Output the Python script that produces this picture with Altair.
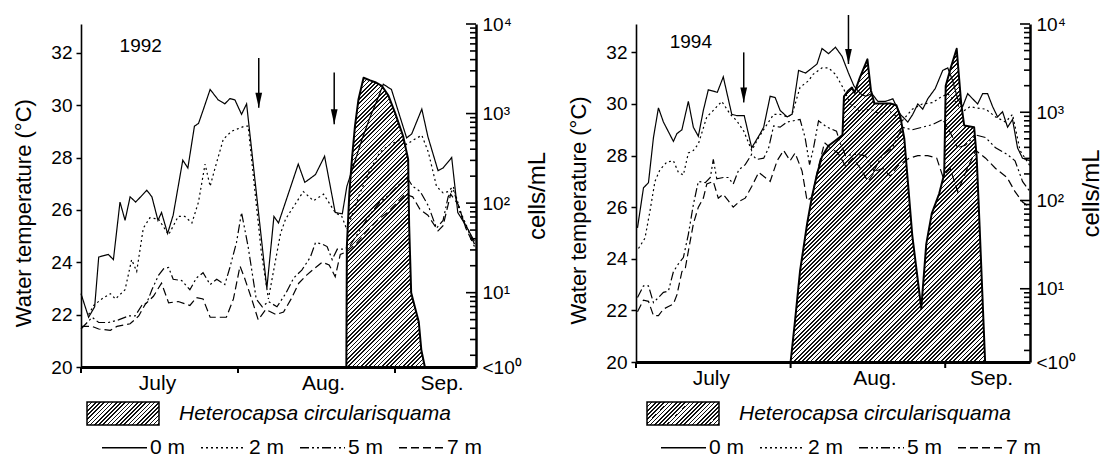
import math
import altair as alt
import pandas as pd

FONT = "Liberation Sans"

# ---- shared chart vocabulary -------------------------------------------
DEPTHS = ["0 m", "2 m", "5 m", "7 m"]
DASHES = [[1, 0], [2, 3], [9, 3, 2, 3, 2, 3], [8, 4]]
MONTHS = ["July", "Aug.", "Sep."]
MONTH_LABEL_DAYS = [15.0, 47.8, 71.2]
MONTH_START_DAYS = [0, 31, 62]
TEMP_TICKS = [20, 22, 24, 26, 28, 30, 32]
TEMP_DOMAIN = [20, 33.1]
LOG_BOTTOM, LOG_TOP = 0.17, 4.0
CELL_LABEL_VALUES = [10 ** LOG_BOTTOM, 10, 100, 1000, 10000]
CELL_LABELS = ["<10⁰", "10¹", "10²", "10³", "10⁴"]
SPECIES = "Heterocapsa circularisquama"
BELOW_DETECTION = 1  # plotted on the "<10^0" baseline

# ---- 1992 (day 0 = 1 July) ----------------------------------------------
d92_0 = [0, 1.5, 2.7, 3.5, 5.4, 6.4, 7.7, 8.7, 9.7, 10.8, 13, 14, 15.2, 15.9, 17.1, 18.2,
         20.1, 21.1, 22.4, 23.2, 24.1, 25.5, 27.1, 28.4, 29.4, 30.4, 31.7, 32.7, 36.7, 38.1,
         39.0, 41.0, 42.9, 44.2, 46.3, 48.1, 50.2, 51.6, 52.5, 54, 55.5, 57, 58.5, 59.7, 61.3,
         64.3, 65.3, 67.3, 68.5, 70.5, 71.5, 73.2, 74.4, 76, 77.7]
t92_0 = [22.8, 21.9, 22.3, 24.2, 24.3, 24.1, 26.3, 25.6, 26.5, 26.3, 26.75, 26.5, 25.6, 25.9, 25.1, 25.8,
         27.9, 27.6, 29.2, 29.3, 29.8, 30.6, 30.2, 30.05, 30.25, 30.2, 29.65, 30.05, 23.0, 25.75,
         25.5, 26.65, 27.75, 27.05, 27.35, 28.05, 25.9, 25.85, 26.9, 27.8, 28.7, 29.5, 30.2, 30.8, 30.6,
         28.75, 28.9, 29.85, 28.8, 27.5, 27.6, 28.0, 25.9, 25.4, 24.8]
d92_2 = [1.5, 2.5, 4.1, 5.8, 6.8, 8.7, 10, 11, 12.3, 13.6, 15.3, 17.3, 19.2, 20.5, 21.9, 23.2,
         24.5, 25.5, 26.4, 28.1, 29.7, 32.3, 33, 35.6, 37, 39.4, 40.4, 43.9, 45.9, 47.9, 50.2,
         51.5, 52.5, 55, 57, 59, 61, 63.3, 64.3, 65.9, 67.3, 68.6, 70.2, 71.5, 72.5, 73.5, 75, 77.7]
t92_2 = [22.0, 22.35, 22.6, 22.8, 22.6, 22.95, 24.1, 23.65, 25.3, 25.7, 25.65, 25.05, 25.75, 25.75, 25.5, 26.3,
         27.75, 26.9, 27.55, 28.7, 29.0, 29.2, 29.2, 24.4, 22.6, 25.1, 25.65, 26.7, 26.35, 26.6, 25.9,
         25.75, 25.25, 26.6, 27.5, 28.2, 28.5, 28.7, 28.5, 28.7, 28.85, 28.2, 26.9, 26.65, 26.7, 26.9, 25.9, 24.7]
d92_5 = [0, 2.2, 3.5, 5.4, 7.4, 9.4, 10.7, 12, 13, 14, 15.3, 16.3, 17.3, 18.2, 19.9, 21.5, 22.8,
         24.1, 25.5, 26.8, 28.4, 29.4, 30.7, 31.7, 33, 34.6, 35.8, 37, 38.7, 40.4, 42, 43.6, 45.3,
         46.3, 47.6, 48.6, 49.6, 50.6, 51.9, 53, 55, 57, 59, 61, 63, 64.5, 65.5, 67, 68.6, 70.2,
         71.5, 72.5, 73.5, 75, 77.7]
t92_5 = [21.45, 21.9, 21.7, 21.7, 21.8, 21.95, 21.95, 22.35, 22.45, 22.95, 23.5, 23.75, 23.8, 23.35, 23.3, 22.95, 23.4,
         23.6, 23.15, 23.35, 23.15, 23.8, 24.75, 25.9, 24.6, 22.6, 22.3, 22.5, 22.3, 22.8, 23.4, 23.7, 24.2,
         24.75, 24.7, 24.6, 24.1, 24.5, 24.5, 24.6, 25.2, 25.8, 26.3, 26.6, 27.0, 27.2, 26.9, 26.7, 26.15, 25.3,
         25.6, 26.5, 26.8, 25.8, 24.7]
d92_7 = [0, 2.2, 3.5, 5.8, 7.1, 9.7, 11.4, 12.7, 14.3, 15.9, 17.3, 19.2, 21.5, 22.8, 24.1, 25.5,
         28.7, 30.1, 31.4, 32.3, 33.7, 35, 36.5, 38.5, 40, 41.5, 43, 44.5, 46, 47.6, 49, 50.2, 51.2,
         52.5, 54.5, 56.5, 58.5, 60.5, 62.5, 64, 65.5, 67, 68.5, 70.5, 71.5, 73, 74.5, 76, 77.7]
t92_7 = [21.55, 21.55, 21.45, 21.4, 21.55, 21.65, 21.95, 22.4, 22.7, 23.2, 22.45, 22.5, 22.35, 22.65, 22.6, 21.9,
         21.9, 22.6, 23.85, 23.4, 22.6, 21.8, 22.2, 22.0, 22.1, 22.6, 23.2, 23.5, 23.75, 24.0, 23.9, 23.45, 24.3,
         24.4, 24.75, 25.2, 25.6, 25.9, 26.3, 26.6, 26.5, 26.0, 25.8, 25.2, 25.4, 26.6, 26.2, 25.3, 24.6]
cd92 = [52.4, 52.5, 53.0, 53.5, 54.1, 54.8, 55.8, 57.1, 58.1, 59.4, 60.7, 62.0, 63.6, 64.6,
        64.8, 65.2, 65.9, 66.7, 67.2, 67.9]
cv92 = [BELOW_DETECTION, 33, 132, 309, 724, 1445, 2512, 2344, 2239, 2042, 1585, 1023, 562, 309,
        56, 10, 7, 4.7, 2.3, BELOW_DETECTION]
arrow92_day = [35.1, 50.0]
arrow92_top = [31.8, 31.25]
arrow92_tip = [29.9, 29.27]

# ---- 1994 ------------------------------------------------------------------
d94_0 = [0.3, 1.5, 2.5, 3.5, 4.5, 5.5, 7.5, 8.2, 9.2, 10.5, 11.5, 12.5, 13.5, 14.5, 15.5, 16.3,
         17.5, 19.2, 20.2, 21.7, 23.2, 24.9, 25.6, 26.9, 27.9, 28.9, 30.3, 31.3, 32.6, 34, 35,
         36.3, 37.3, 38.6, 40, 41.3, 42.6, 43.7, 45, 46, 47.3, 48.5, 50, 51.5, 53, 54.5, 55.5,
         56.5, 57.5, 58.5, 60, 61.5, 62.5, 63.5, 64.5, 65.5, 66.5, 67.5, 68.5, 69.5, 70.5, 71.5,
         72.5, 73.5, 74.5, 75.5, 76.5, 77.5, 79]
t94_0 = [25.2, 26.75, 26.95, 28.7, 29.85, 29.3, 28.55, 28.85, 29.0, 30.1, 29.1, 28.75, 29.75, 30.55, 30.5, 30.45,
         31.05, 29.6, 29.55, 29.55, 28.3, 28.85, 29.1, 30.3, 30.25, 29.75, 29.5, 29.6, 31.3, 31.2, 31.35,
         31.55, 32.15, 31.95, 32.2, 31.85, 31.2, 30.7, 30.4, 30.3, 30.4, 30.1, 30.1, 30.2, 29.6, 29.3, 29.6,
         30.0, 29.8, 30.2, 30.6, 31.3, 31.4, 30.9, 30.2, 29.9, 30.4, 30.2, 30.0, 30.4, 30.4, 29.9,
         29.5, 29.7, 29.1, 29.4, 28.3, 27.9, 27.8]
d94_2 = [0.5, 1.8, 2.8, 3.8, 4.8, 6.2, 7.5, 8.5, 9.5, 10.5, 11.5, 12.5, 14.2, 15.5, 17.2, 18.9,
         20.2, 21.6, 23.2, 24.6, 25.9, 27.6, 28.9, 30.3, 31.3, 32.9, 34.6, 35.5, 37.3, 38.6, 40,
         41.6, 43, 45, 47, 49, 51, 53.4, 55.4, 57.4, 59.4, 61, 62.5, 64, 65.5, 67, 68.1, 70.1,
         72.1, 74.1, 75.5, 77, 79]
t94_2 = [24.4, 24.8, 25.85, 27.0, 27.45, 27.75, 27.8, 27.35, 27.25, 28.1, 28.2, 28.45, 29.5, 29.75, 30.1, 29.6,
         29.35, 28.95, 28.2, 28.7, 29.1, 29.6, 29.6, 29.5, 29.6, 30.65, 30.9, 31.15, 31.4, 31.4, 31.15,
         30.6, 30.0, 29.7, 29.8, 29.6, 29.7, 29.35, 29.8, 30.0, 30.05, 30.25, 30.4, 30.1, 29.7, 29.9, 29.85, 29.8,
         29.5, 29.3, 29.6, 28.2, 27.6]
d94_5 = [0.3, 1.5, 2.5, 3.5, 4.5, 5.5, 6.5, 7.5, 8.5, 9.5, 10.5, 11.5, 12.5, 13.9, 14.9, 15.5,
         16.2, 17.5, 18.5, 19.5, 20.6, 21.9, 23.2, 24.2, 25.6, 26.6, 27.6, 28.9, 30.3, 31.6, 32.9,
         33.9, 34.8, 35.6, 36.6, 38.3, 40.2, 41, 42, 44, 46, 47.7, 49.3, 51.4, 53.4, 55.4, 57.4,
         59.4, 61.5, 63, 64.5, 66, 68.1, 70.1, 72.1, 74.4, 76, 77.5, 79]
t94_5 = [22.5, 22.95, 22.95, 22.3, 22.5, 22.7, 22.75, 23.5, 23.8, 24.05, 24.95, 26.1, 27.0, 26.95, 27.15, 27.85,
         27.1, 27.15, 27.15, 26.9, 27.45, 27.65, 28.05, 27.85, 27.9, 28.3, 29.15, 29.1, 29.3, 29.35, 29.4,
         28.7, 27.65, 28.3, 29.35, 29.1, 28.95, 28.45, 28.0, 28.05, 28.0, 27.4, 28.0, 28.3, 29.1, 29.0, 29.1,
         29.2, 29.4, 28.9, 28.3, 28.4, 28.8, 28.7, 28.3, 28.05, 27.8, 27.0, 26.6]
d94_7 = [0.3, 1.5, 2.5, 3.5, 4.5, 5.5, 6.5, 7.5, 8.2, 9.2, 9.9, 10.5, 11.5, 12.5, 13.5, 14.2,
         15.5, 16.5, 17.5, 18.5, 19.5, 20.9, 21.9, 23.2, 24.6, 25.9, 26.9, 28.3, 29.6, 30.9, 31.9,
         33.3, 34.3, 35.3, 36.5, 37.8, 39, 40.5, 42, 43.5, 45, 46.5, 48, 49.5, 51, 52.5, 54.8,
         56.5, 58.5, 60.3, 61.5, 63, 64.5, 66, 68.1, 70.1, 72.1, 74.4, 76, 77.5, 79]
t94_7 = [21.95, 22.4, 22.35, 21.8, 21.8, 22.05, 22.15, 22.25, 22.6, 23.5, 23.65, 24.3, 25.35, 26.0, 26.35, 26.9,
         27.0, 26.35, 26.5, 26.25, 26.0, 26.25, 26.35, 26.8, 27.35, 27.15, 27.0, 27.8, 28.2, 27.8, 28.1,
         27.4, 26.25, 26.4, 27.5, 28.5, 28.3, 28.1, 27.6, 27.9, 27.5, 27.0, 27.4, 27.5, 27.2, 27.6, 27.9,
         28.0, 28.0, 27.9, 27.2, 27.5, 26.6, 27.3, 28.2, 27.9, 27.5, 27.15, 26.6, 26.2, 26.0]
cd94 = [31.0, 31.9, 32.9, 34.3, 35.3, 36.3, 37.3, 38.6, 40, 41.4, 41.7, 42.5, 43.3, 43.8, 44.8,
        46.4, 47.1, 47.8, 49, 51, 52.2, 53, 53.8, 55.4, 57.2, 58.2, 59.3, 60.8, 61.8, 62.1, 63.2,
        64.3, 65.2, 65.8, 67.8, 68.3, 68.9, 70.0]
cv94 = [BELOW_DETECTION, 4.4, 16, 54, 112, 200, 316, 417, 479, 550, 1514, 1738, 1905, 1660, 2399,
        3981, 1778, 1259, 1259, 1259, 1202, 891, 501, 40, 6, 32, 71, 120, 200, 1995, 3311,
        5248, 1259, 708, 676, 316, 50, BELOW_DETECTION]
arrow94_day = [21.6, 42.6]
arrow94_top = [32.0, 33.45]
arrow94_tip = [30.06, 31.55]


def hatch_fill(w, h, period=4.2, dark=1.7):
    """Diagonal '///' hatching as a hard-stop linear gradient across a w x h box."""
    total = w + h
    stops = []
    pos = 0.0
    while pos < total:
        a = pos / total
        b = min(pos + dark, total) / total
        c = min(pos + period, total) / total
        stops += [{"offset": a, "color": "#111111"}, {"offset": b, "color": "#111111"},
                  {"offset": b, "color": "#ffffff"}, {"offset": c, "color": "#ffffff"}]
        pos += period
    k = total / (w * w + h * h)
    return {"gradient": "linear", "x1": 0, "y1": 0, "x2": w * k, "y2": h * k, "stops": stops}


def range_expr(values, labels):
    """Nested ternary picking a label by the nearest tick value."""
    expr = "'" + labels[-1] + "'"
    for i in range(len(values) - 2, -1, -1):
        cut = (values[i] * values[i + 1]) ** 0.5 if values[i] > 0 else values[i + 1] / 2
        expr = f"datum.value < {cut} ? '{labels[i]}' : ({expr})"
    return expr


month_expr = range_expr(MONTH_LABEL_DAYS, MONTHS)
cell_expr = range_expr(CELL_LABEL_VALUES, CELL_LABELS)
log_ticks = [m * 10 ** k for k in range(4) for m in range(1, 10) if m * 10 ** k > 10 ** LOG_BOTTOM] + [10000]


def log_tick_frame(width, xmax):
    """Right-axis log ticks, expressed on the temperature scale that shares the same pixel span."""
    rows = []
    for v in log_ticks:
        lg = math.log10(v)
        decade = abs(lg - round(lg)) < 1e-9
        length_px = 10 if decade else 6
        pos = TEMP_DOMAIN[0] + (lg - LOG_BOTTOM) / (LOG_TOP - LOG_BOTTOM) * (TEMP_DOMAIN[1] - TEMP_DOMAIN[0])
        rows.append({"cells": v, "pos": pos, "x0": xmax * (1 - length_px / width), "x1": xmax})
    return pd.DataFrame(rows)


def build_panel(year, width, height, xmax, series, cell_days, cell_vals,
                arrow_days, arrow_tops, arrow_tips, year_day, year_temp, key_x, legend_x):
    xs = alt.Scale(domain=[0, xmax], nice=False, zero=False)
    ts = alt.Scale(domain=TEMP_DOMAIN, nice=False, zero=False)
    cell_domain = [10 ** LOG_BOTTOM, 10 ** LOG_TOP]
    cs = alt.Scale(type="log", domain=cell_domain, nice=False, clamp=True)

    x_axis = alt.Axis(values=MONTH_LABEL_DAYS, labelExpr=month_expr, ticks=False, domainWidth=3,
                      labelFontSize=21, labelPadding=5, title=None, grid=False)
    t_axis = alt.Axis(orient="left", values=TEMP_TICKS, tickSize=5, tickWidth=1.5, domainWidth=1.6,
                      labelFontSize=19, labelPadding=4, title="Water temperature (°C)",
                      titleFontSize=22, titleFontWeight="normal", titlePadding=15,
                      titleY=height * 0.55, grid=False)
    c_axis = alt.Axis(orient="right", values=CELL_LABEL_VALUES, labelExpr=cell_expr, ticks=False,
                      domainWidth=2.5, labelFontSize=19, labelPadding=6, title="cells/mL",
                      titleFontSize=24, titleFontWeight="normal", titleAngle=270, titleBaseline="top",
                      titlePadding=4, grid=False)

    X = alt.X("day:Q", scale=xs, axis=x_axis)
    T = lambda field: alt.Y(field, type="quantitative", scale=ts, axis=t_axis)

    rows = []
    for depth, (days, temps) in zip(DEPTHS, series):
        rows += [{"day": d, "temp": t, "depth": depth} for d, t in zip(days, temps)]
    lines_df = pd.DataFrame(rows)

    lines = alt.Chart(lines_df).mark_line(color="black", strokeWidth=1.2).encode(
        x=X,
        y=T("temp"),
        strokeDash=alt.StrokeDash(
            "depth:N",
            scale=alt.Scale(domain=DEPTHS, range=DASHES),
            legend=alt.Legend(orient="none", legendX=legend_x, legendY=400, direction="horizontal",
                              title=None, symbolType="stroke", symbolSize=2025,
                              symbolStrokeWidth=1.3, symbolStrokeColor="black",
                              labelFontSize=21, labelOffset=2, columnPadding=12, labelColor="black"),
        ),
        order=alt.Order("day:Q"),
    )

    month_ticks = alt.Chart(pd.DataFrame({"day": MONTH_START_DAYS})).mark_rule(
        color="black", strokeWidth=2).encode(x=X, y=alt.value(height), y2=alt.value(height + 6))

    # inward-pointing log ticks along the right-hand edge
    log_ticks_marks = alt.Chart(log_tick_frame(width, xmax)).mark_rule(
        color="black", strokeWidth=1.6).encode(
        x=alt.X("x0:Q", scale=xs, axis=x_axis), x2="x1:Q", y=T("pos"))

    arrow_df = pd.DataFrame({"day": arrow_days, "top": arrow_tops, "tip": arrow_tips})
    arrow_shaft = alt.Chart(arrow_df).mark_rule(color="black", strokeWidth=1.5).encode(
        x=X, y=T("top"), y2="tip:Q")
    arrow_head = alt.Chart(arrow_df).mark_point(
        shape="M-0.45,-2L0.45,-2L0,0Z", filled=True, color="black", size=225, opacity=1).encode(
        x=X, y=T("tip"))

    year_df = pd.DataFrame({"day": [year_day], "temp": [year_temp], "label": [year]})
    year_text = alt.Chart(year_df).mark_text(fontSize=19, color="black").encode(
        x=X, y=T("temp"), text="label:N")

    key_df = pd.DataFrame({"label": [SPECIES]})
    key_box = alt.Chart(key_df).mark_rect(
        fill=hatch_fill(72, 23), stroke="black", strokeWidth=1.5).encode(
        x=alt.value(key_x), x2=alt.value(key_x + 72), y=alt.value(378), y2=alt.value(401))
    key_text = alt.Chart(key_df).mark_text(
        align="left", baseline="middle", fontStyle="italic", fontSize=21, color="black").encode(
        x=alt.value(key_x + 92), y=alt.value(390), text="label:N")

    cells_df = pd.DataFrame({"day": cell_days, "cells": cell_vals})
    x_px = [d * width / xmax for d in cell_days]
    top_px = height * (LOG_TOP - math.log10(max(cell_vals))) / (LOG_TOP - LOG_BOTTOM)
    hatch = hatch_fill(max(x_px) - min(x_px), height - top_px)
    area = alt.Chart(cells_df).mark_area(
        fill=hatch, stroke="black", strokeWidth=2, strokeJoin="round", fillOpacity=1).encode(
        x=X, y=alt.Y("cells:Q", scale=cs, axis=c_axis), y2=alt.datum(BELOW_DETECTION))

    temp_layer = alt.layer(lines, month_ticks, log_ticks_marks, arrow_shaft, arrow_head,
                           year_text, key_box, key_text)
    return alt.layer(area, temp_layer).resolve_scale(y="independent").properties(
        width=width, height=height)


p92 = build_panel("1992", 395, 343, 78,
                  [(d92_0, t92_0), (d92_2, t92_2), (d92_5, t92_5), (d92_7, t92_7)],
                  cd92, cv92, arrow92_day, arrow92_top, arrow92_tip, 11.8, 32.25, 6, 20)
p94 = build_panel("1994", 394, 338, 79,
                  [(d94_0, t94_0), (d94_2, t94_2), (d94_5, t94_5), (d94_7, t94_7)],
                  cd94, cv94, arrow94_day, arrow94_top, arrow94_tip, 11.0, 32.39, 11, 24)

chart = alt.hconcat(p92, p94, spacing=17).resolve_scale(strokeDash="independent").resolve_legend(
    strokeDash="independent").properties(
    padding={"left": 12, "top": 14, "right": 4, "bottom": 0}
).configure(font=FONT).configure_view(stroke=None).configure_axis(
    domainColor="black", tickColor="black", labelColor="black", titleColor="black")

chart.save("out.html", embed_options={"renderer": "svg", "actions": False})
